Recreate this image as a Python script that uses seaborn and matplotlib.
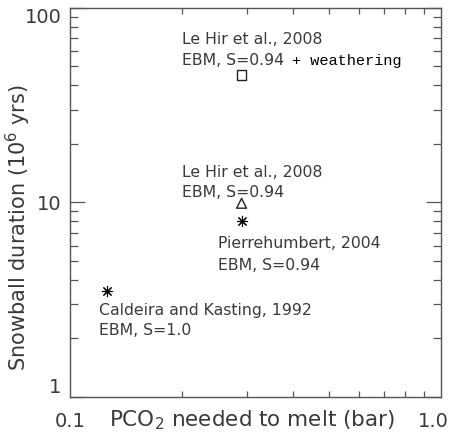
import matplotlib
matplotlib.use("Agg")
import matplotlib.pyplot as plt
import matplotlib.transforms as mtransforms
import seaborn as sns
import pandas as pd
from matplotlib.ticker import LogLocator, NullFormatter, FixedLocator

# %% Data
studies = ["Le Hir 2008 weathering", "Le Hir 2008", "Pierrehumbert 2004", "Caldeira 1992"]
pco2 = [0.29, 0.29, 0.29, 0.126]
duration = [45, 9.9, 8.0, 3.5]
kind = ["square", "triangle", "asterisk", "asterisk"]

labels_top = ["Le Hir et al., 2008", "Le Hir et al., 2008", "Pierrehumbert, 2004", "Caldeira and Kasting, 1992"]
labels_bottom = ["EBM, S=0.94", "EBM, S=0.94", "EBM, S=0.94", "EBM, S=1.0"]
label_x = [0.2, 0.2, 0.25, 0.12]
label_y = [(68.5, 53.4), (14.25, 11.2), (6.15, 4.74), (2.77, 2.21)]

df = pd.DataFrame({"study": studies, "pco2": pco2, "duration": duration, "kind": kind})

# %% Plot
sns.set_style("ticks")
plt.rcParams["font.family"] = ["DejaVu Sans"]
txt = "#3a3a3a"
axc = "#555555"

fig = plt.figure(figsize=(4.6, 4.33), dpi=100)
ax = fig.add_axes([0.152, 0.083, 0.807, 0.899])

marker_map = {"square": "s", "triangle": "^", "asterisk": (8, 2, 0)}
for k, sub in df.groupby("kind"):
    if k == "asterisk":
        sns.scatterplot(data=sub, x="pco2", y="duration", marker=marker_map[k], s=55,
                        color="black", linewidth=0.8, ax=ax, legend=False)
    else:
        sns.scatterplot(data=sub, x="pco2", y="duration", marker=marker_map[k], s=50,
                        facecolor="none", edgecolor="#222222", linewidth=1.0, ax=ax, legend=False)

ax.set_xscale("log")
ax.set_yscale("log")
ax.set_xlim(0.1, 1.0)
ax.set_ylim(1, 100)

for tx, (y1, y2), t1, t2 in zip(label_x, label_y, labels_top, labels_bottom):
    ax.text(tx, y1, t1, fontsize=11.3, color=txt, va="center", ha="left")
    ax.text(tx, y2, t2, fontsize=11.3, color=txt, va="center", ha="left")
ax.text(0.397, 53.4, "+ weathering", fontsize=11, color="black", va="center", ha="left",
        family="Liberation Mono")

# ticks
ax.xaxis.set_major_locator(FixedLocator([0.1, 1.0]))
ax.set_xticklabels(["0.1", "1.0"])
ax.xaxis.set_minor_locator(FixedLocator([0.2, 0.3, 0.4, 0.5, 0.6, 0.7, 0.8, 0.9]))
ax.xaxis.set_minor_formatter(NullFormatter())
ax.yaxis.set_major_locator(FixedLocator([1, 10, 100]))
ax.set_yticklabels(["1", "10", "100"])
ax.yaxis.set_minor_locator(LogLocator(base=10, subs=range(2, 10)))
ax.yaxis.set_minor_formatter(NullFormatter())

ax.tick_params(axis="both", which="both", direction="in", top=True, right=True,
               color=axc, labelcolor=txt, labelsize=14)
ax.tick_params(axis="y", which="major", length=11, width=0.9, pad=6)
ax.tick_params(axis="y", which="minor", length=6, width=0.9)
ax.tick_params(axis="x", which="major", length=0, pad=11)
ax.tick_params(axis="x", which="minor", length=4, width=0.9)
for s in ax.spines.values():
    s.set_color(axc)
    s.set_linewidth(1.0)

# nudge edge tick labels inside like the reference
ylbls = ax.get_yticklabels()
ylbls[0].set_va("bottom")
ylbls[2].set_va("top")
xlbls = ax.get_xticklabels()
xlbls[1].set_transform(xlbls[1].get_transform() +
                       mtransforms.ScaledTranslation(-0.08, 0, fig.dpi_scale_trans))

ax.set_xlabel("")
ax.set_ylabel("Snowball duration (10$^6$ yrs)", fontsize=15, color=txt)
ax.yaxis.set_label_coords(-0.10, 0.435)
ax.text(0.49, -0.059, "PCO$_2$ needed to melt (bar)", transform=ax.transAxes,
        fontsize=15.5, color=txt, ha="center", va="center")

fig.savefig("out.png", dpi=100)
